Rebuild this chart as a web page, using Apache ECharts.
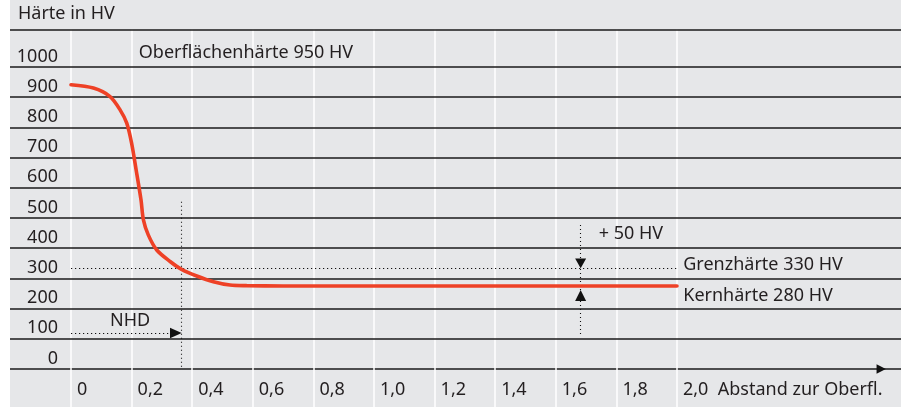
<!DOCTYPE html>
<html><head><meta charset="utf-8">
<script src="https://cdn.jsdelivr.net/npm/echarts@6/dist/echarts.min.js"></script>
<style>html,body{margin:0;padding:0;background:#fff;} #c{position:absolute;left:10px;top:0;width:891px;height:407px;}</style>
</head><body><div id="c"></div>
<script>
// ---- data ----
const depth    = [0, 0.074, 0.129, 0.162, 0.184, 0.200, 0.215, 0.231, 0.239, 0.255, 0.283, 0.327, 0.365, 0.415, 0.470, 0.525, 0.580, 0.700, 1.000, 1.500, 2.000];
const hardness = [906, 895, 867, 823, 779, 713, 624, 525, 459, 409, 359, 321, 295, 273, 254, 243, 241, 240, 240, 240, 240];
const yTicks = [0, 100, 200, 300, 400, 500, 600, 700, 800, 900, 1000];
const xTicks = [0, 0.2, 0.4, 0.6, 0.8, 1.0, 1.2, 1.4, 1.6, 1.8, 2.0];
const xTickLabels = ['0', '0,2', '0,4', '0,6', '0,8', '1,0', '1,2', '1,4', '1,6', '1,8', '2,0  Abstand zur Oberfl.'];
const rowLines = [65, 165, 265, 365, 465, 565, 665, 765, 865, 965, 1089];
const limitHV = 300;        // Grenzhärte line as drawn
const nhdDepth = 0.365;     // NHD depth
const nhdArrowHV = 84.4;
const checkDepth = 1.682;   // +50 HV marker
const texts = [
  {name: 'Oberflächenhärte 950 HV', x: 0.222, y: 1011},
  {name: '+ 50 HV', x: 1.740, y: 414},
  {name: 'Grenzhärte 330 HV', x: 2.019, y: 309},
  {name: 'Kernhärte 280 HV', x: 2.019, y: 207}
];

const FONT = 'Noto Sans';
const FS = 18;
const TXT = '#231f20';
const chart = echarts.init(document.getElementById('c'));
const dotted = {color: '#111', width: 1.1, type: [1.2, 2.8]};
chart.setOption({
  backgroundColor: '#e6e7e9',
  animation: false,
  textStyle: {fontFamily: FONT},
  title: {text: 'Härte in HV', left: 8, top: 5, padding: 0,
    textStyle: {fontSize: FS, fontWeight: 'normal', color: TXT, fontFamily: FONT}},
  grid: {left: 0, right: 0, top: 29.5, bottom: 38, containLabel: false, outerBoundsMode: 'none'},
  xAxis: {
    type: 'value', min: -0.20132, max: 2.7393,
    splitLine: {show: false},
    axisLine: {show: true, onZero: false, lineStyle: {color: '#1a1a1a', width: 1.5}},
    axisTick: {show: true, customValues: xTicks, length: 38, inside: false, lineStyle: {color: '#ffffff', width: 1.5}},
    axisLabel: {
      customValues: xTicks, align: 'left', padding: [0, 0, 0, 6], margin: 12,
      fontSize: FS, color: TXT, fontFamily: FONT,
      formatter: v => xTickLabels[Math.round(v * 5)]
    }
  },
  yAxis: {
    type: 'value', min: -35, max: 1089,
    axisLine: {show: false}, axisTick: {show: false}, splitLine: {show: false},
    axisLabel: {customValues: yTicks, margin: -48, align: 'right', fontSize: FS, color: TXT, fontFamily: FONT,
      formatter: v => String(v)}
  },
  series: [
    {
      type: 'line', data: [], silent: true, z: 1,
      markLine: {silent: true, symbol: 'none', label: {show: false}, animation: false,
        lineStyle: {color: '#ffffff', width: 1.5, type: 'solid'},
        data: xTicks.map(v => ({xAxis: v}))}
    },
    {
      type: 'line', data: [], silent: true, z: 2,
      markLine: {silent: true, symbol: 'none', label: {show: false}, animation: false,
        lineStyle: {color: '#1a1a1a', width: 1.5, type: 'solid'},
        data: rowLines.map(v => ({yAxis: v}))}
    },
    {
      type: 'line', data: [], silent: true, z: 3,
      markLine: {silent: true, symbol: 'none', label: {show: false}, animation: false,
        lineStyle: dotted,
        data: [
          [{coord: [0, limitHV]}, {coord: [2.0, limitHV]}],
          [{coord: [0, nhdArrowHV]}, {coord: [0.327, nhdArrowHV]}],
          [{coord: [nhdDepth, 519]}, {coord: [nhdDepth, -35]}],
          [{coord: [checkDepth, 442]}, {coord: [checkDepth, 77.5]}]
        ]},
      markPoint: {silent: true, animation: false,
        data: [
          {coord: [0.346, nhdArrowHV], symbol: 'triangle', symbolSize: [10.6, 11.7], symbolRotate: -90, itemStyle: {color: '#111'}, label: {show: false}},
          {coord: [checkDepth, 314.6], symbol: 'triangle', symbolSize: [11, 9.6], symbolRotate: 180, itemStyle: {color: '#111'}, label: {show: false}},
          {coord: [checkDepth, 208.6], symbol: 'triangle', symbolSize: [11, 11], symbolRotate: 0, itemStyle: {color: '#111'}, label: {show: false}},
          {coord: [2.674, -35], symbol: 'triangle', symbolSize: [9.3, 9.3], symbolRotate: -90, itemStyle: {color: '#111'}, label: {show: false}},
          {coord: [0.195, 124.8], symbol: 'rect', symbolSize: 1, itemStyle: {color: 'rgba(0,0,0,0)'},
            label: {show: true, position: 'inside', formatter: 'NHD', fontSize: FS, color: TXT, fontFamily: FONT}}
        ].concat(texts.map(t => ({
          coord: [t.x, t.y], symbol: 'rect', symbolSize: 1, itemStyle: {color: 'rgba(0,0,0,0)'},
          label: {show: true, position: 'right', distance: 0, formatter: t.name, fontSize: FS, color: TXT, fontFamily: FONT}
        })))
      }
    },
    {
      type: 'line', z: 5, silent: true,
      data: depth.map((d, i) => [d, hardness[i]]),
      showSymbol: false, smooth: 0.3,
      lineStyle: {color: '#ee4126', width: 3.6, cap: 'round'}
    }
  ]
});
</script></body></html>
